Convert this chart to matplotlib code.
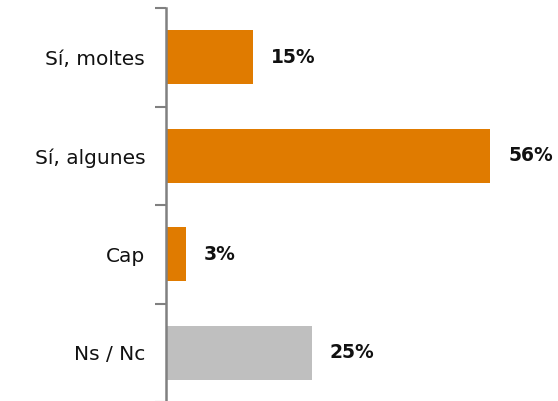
import matplotlib.pyplot as plt

categories = ["Sí, moltes", "Sí, algunes", "Cap", "Ns / Nc"]
values = [15, 56, 3.4, 25.2]
labels = ["15%", "56%", "3%", "25%"]
colors = ["#E07B00", "#E07B00", "#E07B00", "#BFBFBF"]

W, H = 558, 401
fig = plt.figure(figsize=(W / 100, H / 100), dpi=100)
# axes spans from the axis line (x=166) to the right edge, top tick at y=8
ax = fig.add_axes([166 / W, (H - 402) / H, (W - 166) / W, 394 / H])

ypos = list(range(len(categories)))
ax.barh(ypos, values, height=0.55, color=colors)
for y, v, lab in zip(ypos, values, labels):
    ax.text(v + 3.1, y, lab, va="center", ha="left", fontsize=13.5,
            fontweight="bold", color="#111111")

ax.set_ylim(len(categories) - 0.5, -0.5)
ax.set_xlim(0, 67.7)
ax.set_yticks([i - 0.5 for i in range(len(categories) + 1)], minor=False)
ax.set_yticklabels([])
ax.set_yticks(ypos, minor=True)
ax.set_yticklabels(categories, minor=True, fontsize=14.5, color="#111111")
ax.tick_params(axis="y", which="major", length=8, width=1.5, color="#808080", direction="out")
ax.tick_params(axis="y", which="minor", length=0, pad=15)
ax.set_xticks([])
for s in ["top", "right", "bottom"]:
    ax.spines[s].set_visible(False)
ax.spines["left"].set_color("#808080")
ax.spines["left"].set_linewidth(1.8)

fig.savefig("out.png", dpi=100)
